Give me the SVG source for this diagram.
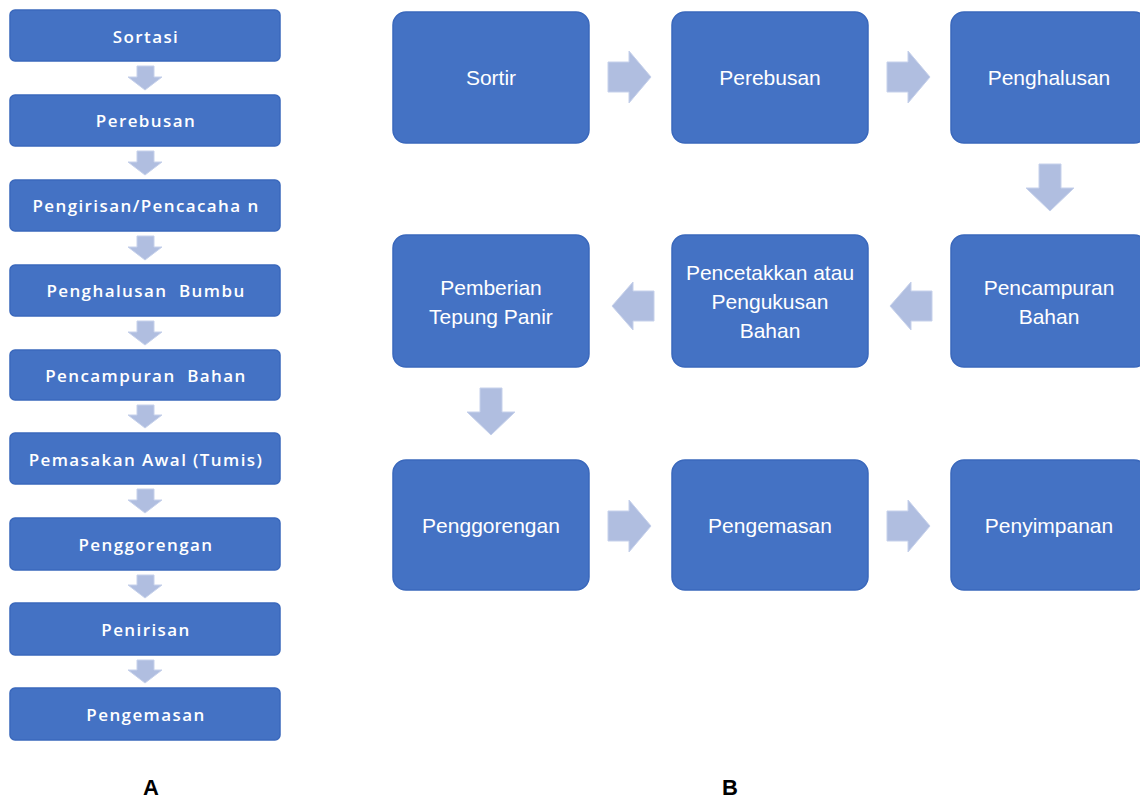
<svg xmlns="http://www.w3.org/2000/svg" width="1140" height="800" viewBox="0 0 1140 800">
<style>
  .box { fill: #4472C4; stroke: #3A68BC; stroke-width: 1.5; }
  .arr { fill: #B0BEE0; stroke: #C6D1EB; stroke-width: 1; }
  .ta { font-family: "Open Sans", "DejaVu Sans", sans-serif; font-weight: 600; font-size: 17px; letter-spacing: 1.4px; fill: #FFFFFF; text-anchor: middle; dominant-baseline: central; white-space: pre; }
  .tb { font-family: "Liberation Sans", Arial, sans-serif; font-size: 21px; fill: #FFFFFF; text-anchor: middle; dominant-baseline: central; }
  .lbl { font-family: "Liberation Sans", Arial, sans-serif; font-weight: bold; font-size: 22px; fill: #000000; text-anchor: middle; dominant-baseline: central; }
</style>
<rect width="1140" height="800" fill="#FFFFFF"/>

<!-- Panel A nodes -->
<g id="a1"><rect class="box" x="10" y="10" width="270" height="51" rx="5"/><text class="ta" x="146" y="36">Sortasi</text></g>
<g id="a2"><rect class="box" x="10" y="95" width="270" height="51" rx="5"/><text class="ta" x="146" y="120">Perebusan</text></g>
<g id="a3"><rect class="box" x="10" y="180" width="270" height="51" rx="5"/><text class="ta" x="146" y="205" xml:space="preserve">Pengirisan/Pencacaha n</text></g>
<g id="a4"><rect class="box" x="10" y="265" width="270" height="51" rx="5"/><text class="ta" x="146" y="290" xml:space="preserve">Penghalusan  Bumbu</text></g>
<g id="a5"><rect class="box" x="10" y="350" width="270" height="50" rx="5"/><text class="ta" x="146" y="375" xml:space="preserve">Pencampuran  Bahan</text></g>
<g id="a6"><rect class="box" x="10" y="433" width="270" height="51" rx="5"/><text class="ta" x="146" y="459">Pemasakan Awal (Tumis)</text></g>
<g id="a7"><rect class="box" x="10" y="518" width="270" height="52" rx="5"/><text class="ta" x="146" y="544">Penggorengan</text></g>
<g id="a8"><rect class="box" x="10" y="603" width="270" height="52" rx="5"/><text class="ta" x="146" y="629">Penirisan</text></g>
<g id="a9"><rect class="box" x="10" y="688" width="270" height="52" rx="5"/><text class="ta" x="146" y="714">Pengemasan</text></g>

<!-- Panel B nodes -->
<g id="b1"><rect class="box" x="393" y="12" width="196" height="131" rx="13"/><text class="tb" x="491" y="77">Sortir</text></g>
<g id="b2"><rect class="box" x="672" y="12" width="196" height="131" rx="13"/><text class="tb" x="770" y="77">Perebusan</text></g>
<g id="b3"><rect class="box" x="951" y="12" width="196" height="131" rx="13"/><text class="tb" x="1049" y="77">Penghalusan</text></g>
<g id="b4"><rect class="box" x="951" y="235" width="196" height="132" rx="13"/><text class="tb" x="1049" y="287">Pencampuran</text><text class="tb" x="1049" y="316">Bahan</text></g>
<g id="b5"><rect class="box" x="672" y="235" width="196" height="132" rx="13"/><text class="tb" x="770" y="272">Pencetakkan atau</text><text class="tb" x="770" y="301">Pengukusan</text><text class="tb" x="770" y="330">Bahan</text></g>
<g id="b6"><rect class="box" x="393" y="235" width="196" height="132" rx="13"/><text class="tb" x="491" y="287">Pemberian</text><text class="tb" x="491" y="316">Tepung Panir</text></g>
<g id="b7"><rect class="box" x="393" y="460" width="196" height="130" rx="13"/><text class="tb" x="491" y="525">Penggorengan</text></g>
<g id="b8"><rect class="box" x="672" y="460" width="196" height="130" rx="13"/><text class="tb" x="770" y="525">Pengemasan</text></g>
<g id="b9"><rect class="box" x="951" y="460" width="196" height="130" rx="13"/><text class="tb" x="1049" y="525">Penyimpanan</text></g>

<!-- Connectors -->
<g id="connectors">
  <!-- Panel A down arrows -->
  <path class="arr" d="M137,66 H154 V77 H162 L145,90 L128,77 H137 Z"/>
  <path class="arr" d="M137,151 H154 V162 H162 L145,175 L128,162 H137 Z"/>
  <path class="arr" d="M137,236 H154 V247 H162 L145,260 L128,247 H137 Z"/>
  <path class="arr" d="M137,321 H154 V332 H162 L145,345 L128,332 H137 Z"/>
  <path class="arr" d="M137,405 H154 V415 H162 L145,428 L128,415 H137 Z"/>
  <path class="arr" d="M137,489 H154 V500 H162 L145,513 L128,500 H137 Z"/>
  <path class="arr" d="M137,575 H154 V585 H162 L145,598 L128,585 H137 Z"/>
  <path class="arr" d="M137,660 H154 V670 H162 L145,683 L128,670 H137 Z"/>
  <!-- Panel B arrows -->
  <path class="arr" d="M608,62 H629 V51 L651,77 L629,103 V92 H608 Z"/>
  <path class="arr" d="M887,62 H908 V51 L930,77 L908,103 V92 H887 Z"/>
  <path class="arr" d="M1039,164 H1061 V188 H1074 L1050,211 L1026,188 H1039 Z"/>
  <path class="arr" d="M932,291 H911 V282 L890,306 L911,330 V321 H932 Z"/>
  <path class="arr" d="M654,291 H633 V282 L612,306 L633,330 V321 H654 Z"/>
  <path class="arr" d="M480,388 H502 V412 H515 L491,435 L467,412 H480 Z"/>
  <path class="arr" d="M608,511 H629 V500 L651,526 L629,552 V541 H608 Z"/>
  <path class="arr" d="M887,511 H908 V500 L930,526 L908,552 V541 H887 Z"/>
</g>

<text class="lbl" x="151" y="787">A</text>
<text class="lbl" x="730" y="787">B</text>
</svg>
